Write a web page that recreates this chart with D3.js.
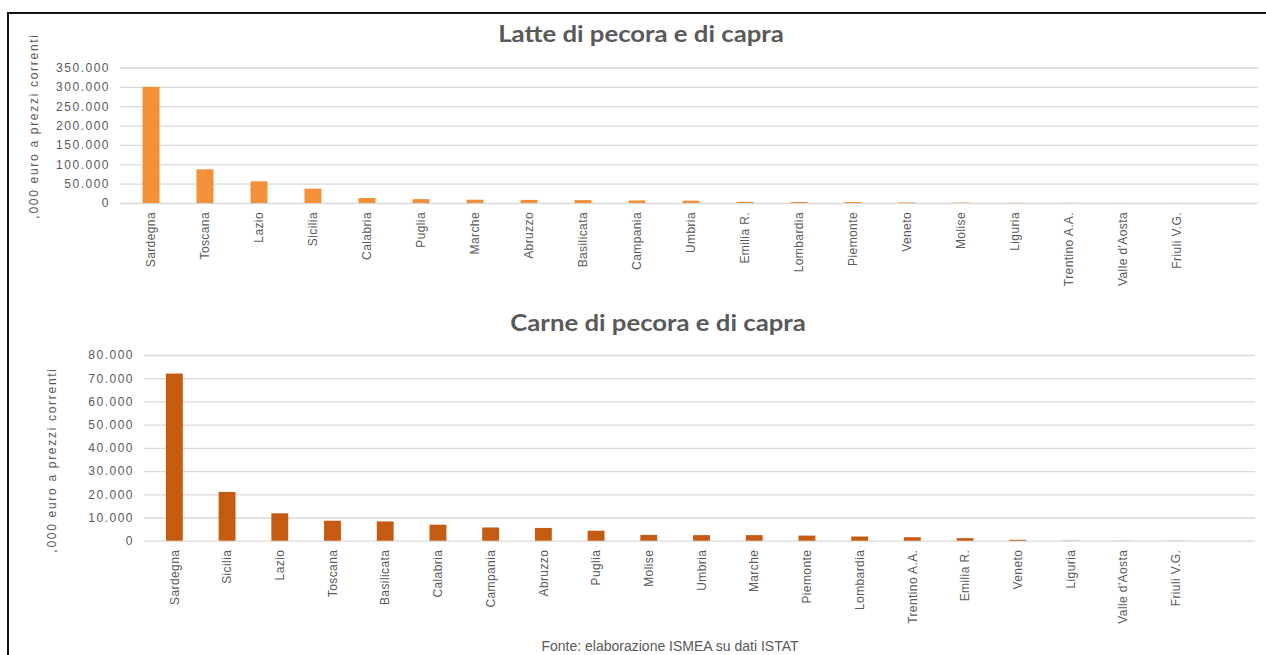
<!DOCTYPE html>
<html>
<head>
<meta charset="utf-8">
<script src="https://cdn.jsdelivr.net/npm/d3@7"></script>
<style>
  html, body { margin: 0; padding: 0; background: #fff; }
  svg { display: block; }
  .tick text, .lbl { font-family: "Liberation Sans", Arial, sans-serif; fill: #595959; }
</style>
</head>
<body>
<svg id="chart" width="1266" height="655"></svg>
<script>
// Regional production value, thousand euro at current prices
const milkRegions = ["Sardegna", "Toscana", "Lazio", "Sicilia", "Calabria", "Puglia", "Marche", "Abruzzo",
  "Basilicata", "Campania", "Umbria", "Emilia R.", "Lombardia", "Piemonte", "Veneto", "Molise",
  "Liguria", "Trentino A.A.", "Valle d'Aosta", "Friuli V.G."];
const milkValues = [300000, 87000, 56000, 37000, 13000, 10000, 8500, 8000,
  7500, 6500, 6000, 3000, 2500, 2500, 1500, 1000,
  500, 400, 200, 200];
const milkTicks = [0, 50000, 100000, 150000, 200000, 250000, 300000, 350000];

const meatRegions = ["Sardegna", "Sicilia", "Lazio", "Toscana", "Basilicata", "Calabria", "Campania", "Abruzzo",
  "Puglia", "Molise", "Umbria", "Marche", "Piemonte", "Lombardia", "Trentino A.A.", "Emilia R.",
  "Veneto", "Liguria", "Valle d'Aosta", "Friuli V.G."];
const meatValues = [72000, 21000, 11800, 8600, 8300, 6900, 5700, 5500,
  4300, 2500, 2400, 2400, 2200, 1800, 1500, 1100,
  400, 100, 50, 50];
const meatTicks = [0, 10000, 20000, 30000, 40000, 50000, 60000, 70000, 80000];

const yTitle = ",000 euro a prezzi correnti";
const source = "Fonte: elaborazione ISMEA su dati ISTAT";

const itLocale = d3.formatLocale({ decimal: ",", thousands: ".", grouping: [3], currency: ["€", ""] });
const fmt = itLocale.format(",.0f");

const svg = d3.select("#chart");

// outer frame (top and left edges)
svg.append("path")
  .attr("d", "M8,655 V13 H1266")
  .attr("fill", "none").attr("stroke", "#111").attr("stroke-width", 2);

function drawPanel(opt) {
  const g = svg.append("g");
  // one spare slot after the last region keeps the plot area wider than the bars
  const slots = opt.regions.concat([" "]);
  const x = d3.scaleBand().domain(slots).range([opt.left, opt.right]).paddingInner(opt.pad).paddingOuter(opt.pad / 2);
  const y = d3.scaleLinear().domain([0, d3.max(opt.ticks)]).range([opt.bottom, opt.top]);

  // gridlines + value labels
  const yAxis = d3.axisLeft(y).tickValues(opt.ticks).tickFormat(fmt)
    .tickSize(-(opt.right - opt.left + 4)).tickPadding(10);
  const ya = g.append("g").attr("transform", `translate(${opt.left - 4},0)`).call(yAxis);
  ya.select(".domain").remove();
  ya.selectAll(".tick line").attr("stroke", "#d9d9d9").attr("stroke-width", 1.3);
  ya.selectAll(".tick text").attr("font-size", 12).attr("letter-spacing", "1.5px").attr("fill", "#595959");

  // bars
  g.append("g").selectAll("rect")
    .data(opt.values)
    .join("rect")
    .attr("x", (d, i) => x(opt.regions[i]))
    .attr("width", x.bandwidth())
    .attr("y", d => y(d))
    .attr("height", d => opt.bottom - y(d))
    .attr("fill", opt.color);

  // region labels
  const xAxis = d3.axisBottom(x).tickValues(opt.regions).tickSize(0).tickPadding(0);
  const xa = g.append("g").attr("transform", `translate(0,${opt.bottom})`).call(xAxis);
  xa.select(".domain").remove();
  xa.selectAll(".tick text")
    .attr("transform", "rotate(-90)")
    .attr("text-anchor", "end")
    .attr("x", -opt.labelGap)
    .attr("y", 0)
    .attr("dy", "0.35em")
    .attr("font-size", 12)
    .attr("letter-spacing", "0.4px")
    .attr("fill", "#4d4d4d");

  // chart title, drawn slightly widened
  g.append("text")
    .attr("transform", `translate(${opt.titleX},${opt.titleY}) scale(1.17,1)`)
    .attr("text-anchor", "middle")
    .attr("font-family", "Lato, 'Open Sans', sans-serif")
    .attr("font-weight", 700)
    .attr("font-size", 22)
    .attr("fill", "#595959")
    .text(opt.title);

  // value axis title
  g.append("text")
    .attr("class", "lbl")
    .attr("transform", `translate(${opt.yTitleX},${opt.yTitleY}) rotate(-90)`)
    .attr("text-anchor", "middle")
    .attr("dy", "0.35em")
    .attr("font-size", 12)
    .attr("letter-spacing", "1.7px")
    .text(yTitle);
}

drawPanel({
  regions: milkRegions, values: milkValues, ticks: milkTicks,
  left: 124, right: 1258, top: 67.5, bottom: 203, pad: 0.685,
  color: "#F4903A", title: "Latte di pecora e di capra", titleX: 641, titleY: 42,
  yTitleX: 34, yTitleY: 126, labelGap: 9
});

drawPanel({
  regions: meatRegions, values: meatValues, ticks: meatTicks,
  left: 148, right: 1255, top: 355, bottom: 540.7, pad: 0.68,
  color: "#C55A11", title: "Carne di pecora e di capra", titleX: 658, titleY: 331,
  yTitleX: 52, yTitleY: 460, labelGap: 9
});

// source note
svg.append("text")
  .attr("class", "lbl")
  .attr("x", 670).attr("y", 651)
  .attr("text-anchor", "middle")
  .attr("font-family", "'Liberation Sans Narrow', 'Liberation Sans', sans-serif")
  .attr("font-size", 14)
  .attr("fill", "#595959")
  .text(source);
</script>
</body>
</html>
